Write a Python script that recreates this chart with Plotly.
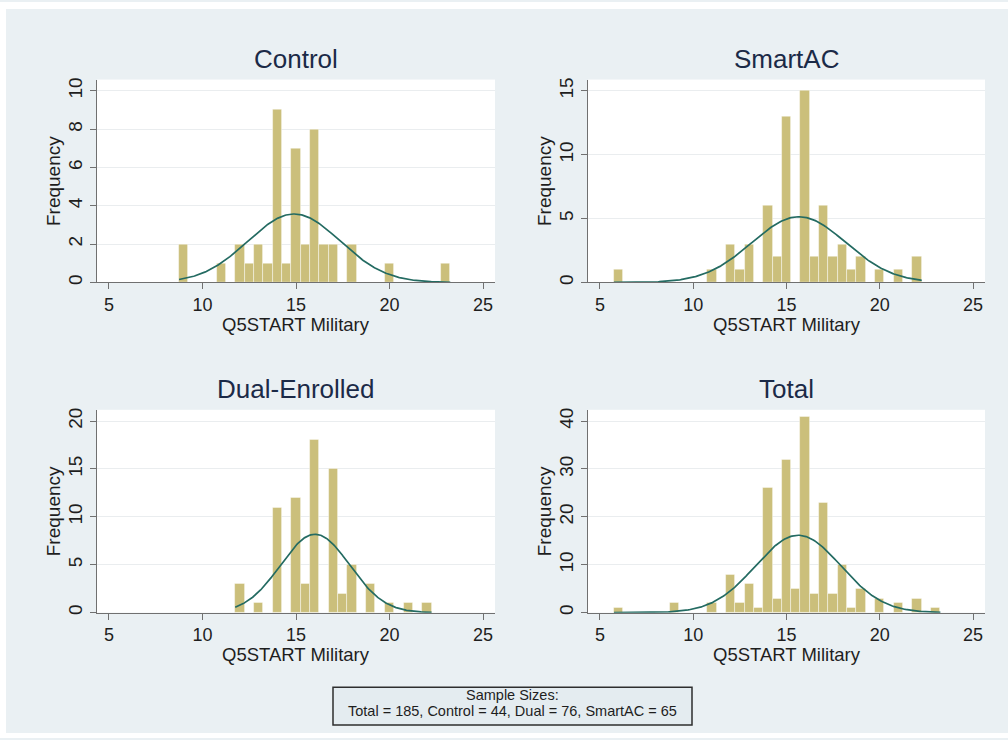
import numpy as np
import plotly.graph_objects as go

# ---- data: histogram bins (width 0.5) of Q5START Military, counts per group ----
bin_centers = [6.0, 9.0, 11.0, 12.0, 12.5, 13.0, 13.5, 14.0, 14.5, 15.0, 15.5,
               16.0, 16.5, 17.0, 17.5, 18.0, 18.5, 19.0, 20.0, 21.0, 22.0, 23.0]
control_counts = [0, 2, 1, 2, 1, 2, 1, 9, 1, 7, 2, 8, 2, 2, 0, 2, 0, 0, 1, 0, 0, 1]
smartac_counts = [1, 0, 1, 3, 1, 3, 0, 6, 2, 13, 0, 15, 2, 6, 2, 3, 1, 2, 1, 1, 2, 0]
dual_counts = [0, 0, 0, 3, 0, 1, 0, 11, 0, 12, 3, 18, 0, 15, 2, 5, 0, 3, 1, 1, 1, 0]
total_counts = [c + s + d for c, s, d in zip(control_counts, smartac_counts, dual_counts)]

bin_width = 0.5
x_ticks = [5, 10, 15, 20, 25]

panels = [
    # title, counts, y tick values
    ("Control", control_counts, [0, 2, 4, 6, 8, 10]),
    ("SmartAC", smartac_counts, [0, 5, 10, 15]),
    ("Dual-Enrolled", dual_counts, [0, 5, 10, 15, 20]),
    ("Total", total_counts, [0, 10, 20, 30, 40]),
]

note_lines = ["Sample Sizes:",
              "Total = %d, Control = %d, Dual = %d, SmartAC = %d" % (
                  sum(total_counts), sum(control_counts), sum(dual_counts), sum(smartac_counts))]

# ---- styling ----
W, H = 1008, 740
BG = "#EAF0F3"
BAR = "#CBBF7B"
CURVE = "#246B62"
AXIS = "#707070"
TXT = "#1E1E1E"
TITLE = "#1B2A47"
FONT = "Liberation Sans, Arial, sans-serif"

# pixel boxes of the four plot regions (left, top, right, bottom)
boxes = [(97, 78, 495, 282), (588, 78, 985, 282),
         (97, 410, 495, 614), (588, 410, 985, 614)]


def px(x):
    return x / W


def py(y):
    return 1 - y / H


fig = go.Figure()
annotations = []
layout_axes = {}

for i, ((title, counts, yt), (l, t, r, b)) in enumerate(zip(panels, boxes)):
    k = "" if i == 0 else str(i + 1)
    xa, ya = "x" + k, "y" + k

    xs = [x for x, c in zip(bin_centers, counts) if c > 0]
    ys = [c for c in counts if c > 0]
    fig.add_trace(go.Bar(
        x=xs, y=ys, width=bin_width, xaxis=xa, yaxis=ya,
        marker=dict(color=BAR, line=dict(color="rgba(255,255,255,0.55)", width=0.8)),
        showlegend=False, hoverinfo="x+y"))

    # fitted normal density scaled to frequency
    vals = np.repeat(bin_centers, counts)
    n = len(vals)
    mu, sd = vals.mean(), vals.std(ddof=1)
    gx = np.linspace(vals.min() - 0.25, vals.max() + 0.25, 300)
    gy = n * bin_width * np.exp(-0.5 * ((gx - mu) / sd) ** 2) / (sd * np.sqrt(2 * np.pi))
    fig.add_trace(go.Scatter(
        x=gx, y=gy, mode="lines", xaxis=xa, yaxis=ya,
        line=dict(color=CURVE, width=1.7), showlegend=False, hoverinfo="skip"))

    layout_axes["xaxis" + k] = dict(
        domain=[px(l), px(r)], anchor=ya, range=[4.36, 25.64],
        tickvals=x_ticks, ticks="outside", ticklen=6, tickcolor=AXIS, tickwidth=1,
        showline=True, linecolor=AXIS, linewidth=1, showgrid=False, zeroline=False,
        ticklabelstandoff=0,
        tickfont=dict(size=18, color=TXT, family=FONT), fixedrange=True)
    layout_axes["yaxis" + k] = dict(
        domain=[py(b), py(t)], anchor=xa, range=[0, yt[-1] * 1.059],
        tickvals=yt, tickangle=-90, ticks="outside", ticklen=6, tickcolor=AXIS, tickwidth=1,
        showline=True, linecolor=AXIS, linewidth=1, showgrid=True,
        gridcolor="#EAEDEF", gridwidth=1, zeroline=False, ticklabelstandoff=0,
        tickfont=dict(size=19, color=TXT, family=FONT), fixedrange=True)

    cx = (l + r) / 2
    annotations.append(dict(text=title, x=px(cx), y=py(t - 21), xref="paper", yref="paper",
                            showarrow=False, xanchor="center", yanchor="middle",
                            font=dict(size=26, color=TITLE, family=FONT)))
    annotations.append(dict(text="Q5START Military", x=px(cx), y=py(b + 42),
                            xref="paper", yref="paper", showarrow=False,
                            xanchor="center", yanchor="middle",
                            font=dict(size=18.5, color=TXT, family=FONT)))
    annotations.append(dict(text="Frequency", x=px(l - 44), y=py((t + b) / 2),
                            xref="paper", yref="paper", showarrow=False, textangle=-90,
                            xanchor="center", yanchor="middle",
                            font=dict(size=19, color=TXT, family=FONT)))

# sample size note box
annotations.append(dict(text=note_lines[0], x=px(512.5), y=py(697), xref="paper", yref="paper",
                        showarrow=False, xanchor="center", yanchor="middle",
                        font=dict(size=14.5, color=TXT, family=FONT)))
annotations.append(dict(text=note_lines[1], x=px(512.5), y=py(713), xref="paper", yref="paper",
                        showarrow=False, xanchor="center", yanchor="middle",
                        font=dict(size=14.5, color=TXT, family=FONT)))

shapes = [
    # white strips framing the graph region
    dict(type="rect", xref="paper", yref="paper", x0=0, x1=px(6), y0=0, y1=1,
         fillcolor="white", line=dict(width=0), layer="below"),
    dict(type="rect", xref="paper", yref="paper", x0=0, x1=1, y0=py(7), y1=1,
         fillcolor="white", line=dict(width=0), layer="below"),
    dict(type="rect", xref="paper", yref="paper", x0=0, x1=1, y0=0, y1=py(735),
         fillcolor="white", line=dict(width=0), layer="below"),
    # note box
    dict(type="rect", xref="paper", yref="paper", x0=px(333), x1=px(692), y0=py(727), y1=py(689),
         fillcolor="#E4ECF0", line=dict(color="#2E2E2E", width=1.5), layer="below"),
]

fig.update_layout(
    width=W, height=H, margin=dict(l=0, r=0, t=0, b=0),
    paper_bgcolor=BG, plot_bgcolor="white",
    font=dict(family=FONT, color=TXT),
    bargap=0, annotations=annotations, shapes=shapes,
    **layout_axes)

fig.write_html("out.html")
